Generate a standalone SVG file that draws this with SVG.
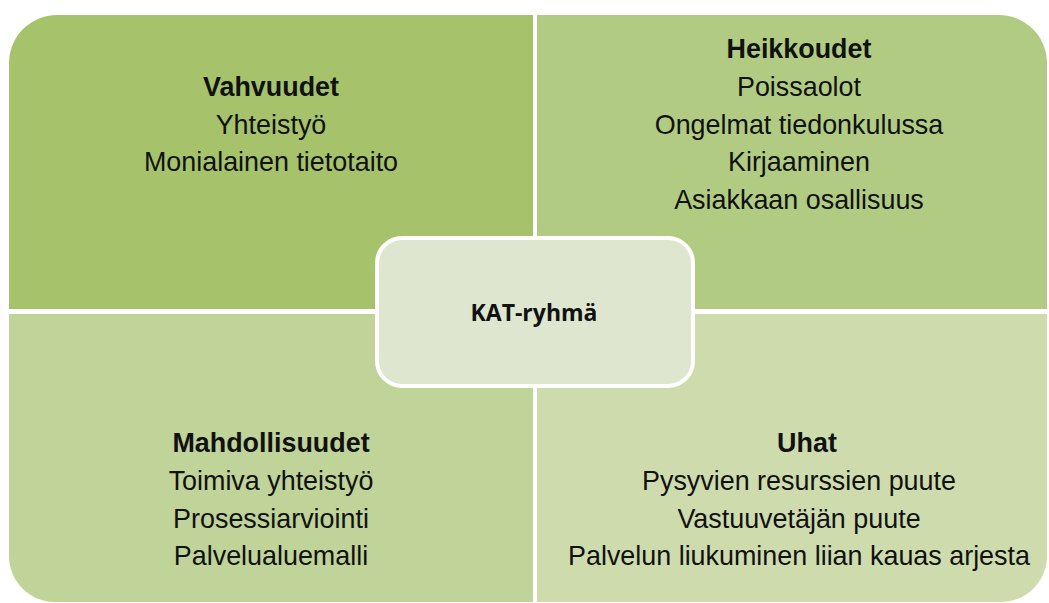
<svg xmlns="http://www.w3.org/2000/svg" width="1049" height="603" viewBox="0 0 1049 603">
<style>
.t{font-family:"Liberation Sans",Arial,sans-serif;font-size:26.9px;fill:#111;text-anchor:middle}
.b{font-weight:bold}
.c{font-family:"Open Sans","Noto Sans",sans-serif;font-size:23px;font-weight:bold;fill:#111;text-anchor:middle}
</style>
<rect width="1049" height="603" fill="#fff"/>
<g id="vahvuudet">
<path d="M9 63 A48 48 0 0 1 57 15 L533 15 L533 309 L9 309 Z" fill="#a6c36b"/>
<text class="t b" x="271" y="96">Vahvuudet</text>
<text class="t" x="271" y="134">Yhteistyö</text>
<text class="t" x="271" y="171">Monialainen tietotaito</text>
</g>
<g id="heikkoudet">
<path d="M537 15 L999 15 A48 48 0 0 1 1047 63 L1047 309 L537 309 Z" fill="#b1cc82"/>
<text class="t b" x="799" y="58">Heikkoudet</text>
<text class="t" x="799" y="96">Poissaolot</text>
<text class="t" x="799" y="134">Ongelmat tiedonkulussa</text>
<text class="t" x="799" y="171">Kirjaaminen</text>
<text class="t" x="799" y="209">Asiakkaan osallisuus</text>
</g>
<g id="mahdollisuudet">
<path d="M9 314 L533 314 L533 602 L55 602 A46 46 0 0 1 9 556 Z" fill="#c0d398"/>
<text class="t b" x="271" y="452">Mahdollisuudet</text>
<text class="t" x="271" y="490">Toimiva yhteistyö</text>
<text class="t" x="271" y="528">Prosessiarviointi</text>
<text class="t" x="271" y="565">Palvelualuemalli</text>
</g>
<g id="uhat">
<path d="M537 314 L1047 314 L1047 556 A46 46 0 0 1 1001 602 L537 602 Z" fill="#cedcad"/>
<text class="t b" x="807" y="452">Uhat</text>
<text class="t" x="799" y="490">Pysyvien resurssien puute</text>
<text class="t" x="799" y="528">Vastuuvetäjän puute</text>
<text class="t" x="799" y="565">Palvelun liukuminen liian kauas arjesta</text>
</g>
<g id="kat-ryhma">
<rect x="377" y="238" width="316" height="148" rx="25" fill="#dee6d0" stroke="#fff" stroke-width="4"/>
<text class="c" x="534" y="321">KAT-ryhmä</text>
</g>
<g id="connectors"/>
</svg>
